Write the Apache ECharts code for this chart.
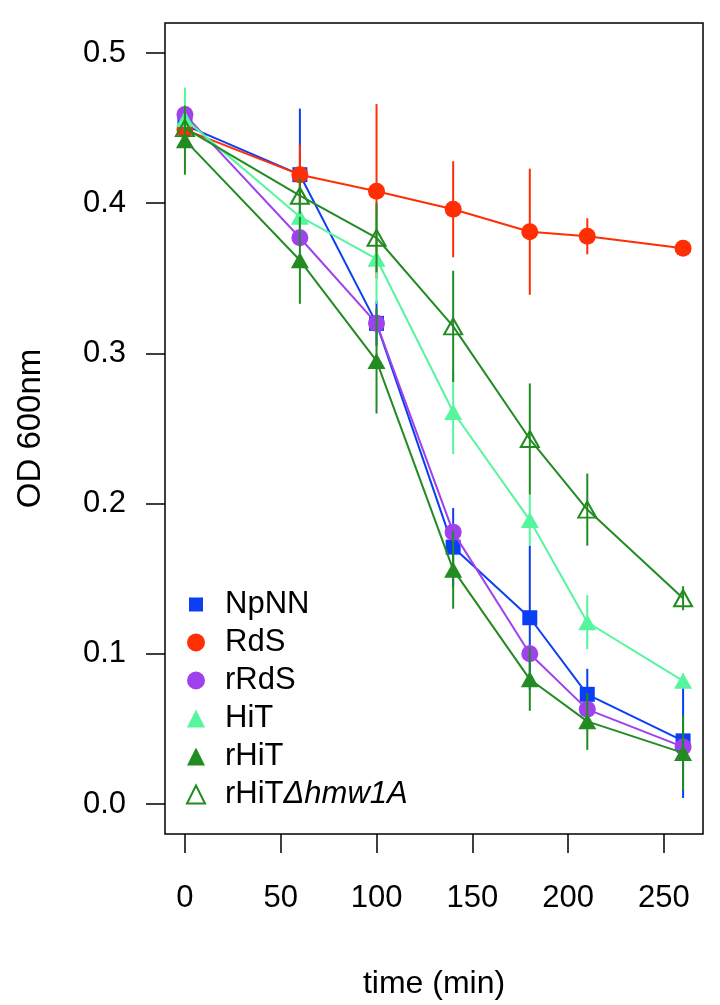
<!DOCTYPE html>
<html>
<head>
<meta charset="utf-8">
<script src="https://cdn.jsdelivr.net/npm/echarts@6/dist/echarts.min.js"></script>
<style>
html,body{margin:0;padding:0;background:#fff;}
#c{width:720px;height:1005px;}
</style>
</head>
<body>
<div id="c"></div>
<script>
// ---- data ----
const times = [0, 60, 100, 140, 180, 210, 260];
const strainNames = ['NpNN', 'RdS', 'rRdS', 'HiT', 'rHiT', 'rHiTΔhmw1A'];
const npnn     = [0.452, 0.419, 0.320, 0.171, 0.124, 0.073, 0.042];
const npnnErr  = [0.005, 0.044, 0.015, 0.026, 0.048, 0.017, 0.038];
const rds      = [0.449, 0.419, 0.408, 0.396, 0.381, 0.378, 0.370];
const rdsErr   = [0.005, 0.020, 0.058, 0.032, 0.042, 0.012, 0.003];
const rrds     = [0.459, 0.377, 0.320, 0.181, 0.100, 0.063, 0.038];
const rrdsErr  = [0.005, 0.006, 0.006, 0.006, 0.006, 0.005, 0.004];
const hit      = [0.456, 0.391, 0.363, 0.261, 0.189, 0.121, 0.082];
const hitErr   = [0.021, 0.010, 0.030, 0.028, 0.017, 0.018, 0.005];
const rhit     = [0.442, 0.362, 0.295, 0.156, 0.083, 0.055, 0.034];
const rhitErr  = [0.023, 0.029, 0.035, 0.026, 0.021, 0.019, 0.025];
const rhitd    = [0.450, 0.405, 0.377, 0.318, 0.243, 0.196, 0.137];
const rhitdErr = [0.008, 0.012, 0.023, 0.037, 0.037, 0.024, 0.008];
const xTicks = [0, 50, 100, 150, 200, 250];
const yTicks = [0, 0.1, 0.2, 0.3, 0.4, 0.5];

// ---- styling ----
const FONT = '"Liberation Sans", Arial, Helvetica, sans-serif';
const styles = [
  {values: npnn,  err: npnnErr,  color: '#0B3FF5', symbol: 'rect',     size: 15, fill: true,  icon: 'path://M2,2h14v14h-14zM0,0M18,18'},
  {values: rds,   err: rdsErr,   color: '#FF2E05', symbol: 'circle',   size: 17, fill: true,  icon: 'circle'},
  {values: rrds,  err: rrdsErr,  color: '#A041EE', symbol: 'circle',   size: 17, fill: true,  icon: 'circle'},
  {values: hit,   err: hitErr,   color: '#56F59E', symbol: 'triangle', size: [18, 16], fill: true,  icon: 'triangle'},
  {values: rhit,  err: rhitErr,  color: '#228B22', symbol: 'triangle', size: [18, 16], fill: true,  icon: 'triangle'},
  {values: rhitd, err: rhitdErr, color: '#228B22', symbol: 'triangle', size: [18, 16], fill: false, icon: 'triangle'}
];

const series = [];
strainNames.forEach((name, k) => {
  const s = styles[k];
  series.push({
    name: name,
    type: 'line',
    data: times.map((t, i) => [t, s.values[i]]),
    symbol: s.symbol,
    symbolSize: s.size,
    showSymbol: true,
    z: 10 + 2 * k,
    lineStyle: {color: s.color, width: 2},
    itemStyle: s.fill ? {color: s.color, borderWidth: 0}
                      : {color: 'rgba(0,0,0,0)', borderColor: s.color, borderWidth: 2},
    emphasis: {disabled: true},
    animation: false
  });
  series.push({
    name: name + ' err',
    type: 'custom',
    data: times.map((t, i) => [t, s.values[i], s.err[i]]),
    z: 11 + 2 * k,
    silent: true,
    animation: false,
    renderItem: function (params, api) {
      const x = api.value(0), v = api.value(1), e = api.value(2);
      const p1 = api.coord([x, v - e]);
      const p2 = api.coord([x, v + e]);
      return {
        type: 'line',
        shape: {x1: p1[0], y1: p1[1], x2: p2[0], y2: p2[1]},
        style: {stroke: s.color, lineWidth: 2}
      };
    }
  });
});

const legendData = strainNames.map((name, k) => {
  const s = styles[k];
  return {
    name: name,
    icon: s.icon,
    itemStyle: s.fill ? {color: s.color, borderWidth: 0}
                      : {color: 'rgba(0,0,0,0)', borderColor: s.color, borderWidth: 2}
  };
});

const chart = echarts.init(document.getElementById('c'), null, {renderer: 'canvas'});
chart.setOption({
  backgroundColor: '#fff',
  animation: false,
  textStyle: {fontFamily: FONT},
  grid: {
    left: 165, right: 17, top: 23, bottom: 171,
    show: true, borderColor: '#000', borderWidth: 1.5, backgroundColor: 'transparent'
  },
  legend: {
    orient: 'vertical',
    left: 186, top: 589,
    padding: 0,
    itemGap: 7,
    itemWidth: 18, itemHeight: 18,
    selectedMode: false,
    data: legendData,
    formatter: function (name) {
      if (name === 'rHiTΔhmw1A') return '{n|rHiT}{i|Δhmw1A}';
      return '{n|' + name + '}';
    },
    textStyle: {
      fontFamily: FONT, fontSize: 31, color: '#000', lineHeight: 30,
      rich: {
        n: {fontFamily: FONT, fontSize: 31, color: '#000', lineHeight: 30, padding: [0, 0, 0, 15]},
        i: {fontFamily: FONT, fontSize: 31, color: '#000', lineHeight: 30, fontStyle: 'italic'}
      }
    }
  },
  xAxis: {
    type: 'value',
    min: -10.4, max: 270.4,
    name: 'time (min)',
    nameLocation: 'middle',
    nameGap: 134,
    nameTextStyle: {fontFamily: FONT, fontSize: 32, color: '#000'},
    axisLine: {show: false, onZero: false},
    splitLine: {show: false},
    axisTick: {show: true, inside: false, length: 19, customValues: xTicks,
               lineStyle: {color: '#000', width: 1.5}},
    axisLabel: {customValues: xTicks, fontFamily: FONT, fontSize: 31, color: '#000', margin: 49,
                formatter: v => String(v)}
  },
  yAxis: {
    type: 'value',
    min: -0.02, max: 0.52,
    name: 'OD 600nm',
    nameLocation: 'middle',
    nameGap: 118,
    nameTextStyle: {fontFamily: FONT, fontSize: 33, color: '#000'},
    axisLine: {show: false, onZero: false},
    splitLine: {show: false},
    axisTick: {show: true, inside: false, length: 19, customValues: yTicks,
               lineStyle: {color: '#000', width: 1.5}},
    axisLabel: {customValues: yTicks, fontFamily: FONT, fontSize: 31, color: '#000', margin: 39,
                formatter: v => v.toFixed(1)}
  },
  series: series
});
</script>
</body>
</html>
